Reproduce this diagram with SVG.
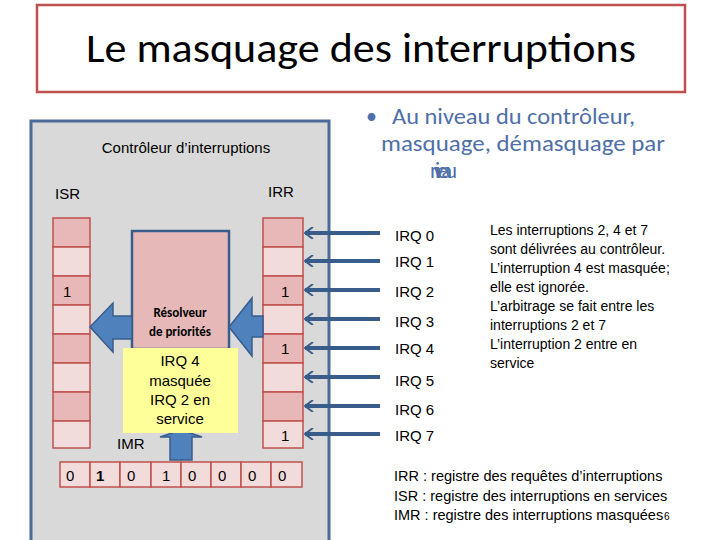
<svg xmlns="http://www.w3.org/2000/svg" width="720" height="540" viewBox="0 0 720 540">
<style>
text{font-family:"Liberation Sans",Arial,sans-serif;fill:#000}
.c{font-family:Carlito,Calibri,"Liberation Sans",sans-serif}
.a{fill:#e8b8b8;stroke:#c0504d;stroke-width:1.5}
.b{fill:#f2dcdb;stroke:#c0504d;stroke-width:1.5}
.big{fill:#4f81bd;stroke:#385d8a;stroke-width:1.5}
.blue{fill:#4f6fa8}
</style>
<defs><marker id="ah" markerWidth="10" markerHeight="12" refX="9" refY="6" orient="auto" markerUnits="userSpaceOnUse"><path d="M1,0 L9,6 L1,12" fill="none" stroke="#385d8a" stroke-width="2"/></marker></defs>
<rect width="720" height="540" fill="#fff"/>
<g id="title"><rect x="37" y="5" width="648" height="87" fill="#fff" stroke="#c0504d" stroke-width="2.5"/>
<text x="86" y="62" font-size="40" textLength="550" lengthAdjust="spacingAndGlyphs" class="c">Le masquage des interruptions</text></g>
<g id="panel"><rect x="31" y="121" width="298" height="425" fill="#d9d9d9" stroke="#4a6a9a" stroke-width="3"/>
<text x="186" y="153" font-size="15" text-anchor="middle">Contrôleur d’interruptions</text>
<text x="55" y="199" font-size="15">ISR</text><text x="268" y="197" font-size="15">IRR</text></g>
<g id="isr">
<rect class="a" x="53" y="218" width="37" height="29"/><rect class="b" x="53" y="247" width="37" height="29"/>
<rect class="a" x="53" y="276" width="37" height="29"/><rect class="b" x="53" y="305" width="37" height="29"/>
<rect class="a" x="53" y="334" width="37" height="29"/><rect class="b" x="53" y="363" width="37" height="29"/>
<rect class="a" x="53" y="392" width="37" height="29"/><rect class="b" x="53" y="421" width="37" height="27"/>
<text x="63" y="297" font-size="15">1</text></g>
<g id="irr">
<rect class="a" x="263" y="218" width="40" height="29"/><rect class="b" x="263" y="247" width="40" height="29"/>
<rect class="a" x="263" y="276" width="40" height="29"/><rect class="b" x="263" y="305" width="40" height="29"/>
<rect class="a" x="263" y="334" width="40" height="29"/><rect class="b" x="263" y="363" width="40" height="29"/>
<rect class="a" x="263" y="392" width="40" height="29"/><rect class="b" x="263" y="421" width="40" height="27"/>
<text x="281" y="297" font-size="15">1</text><text x="281" y="354" font-size="15">1</text><text x="281" y="441" font-size="15">1</text></g>
<g id="resolver"><rect x="132" y="231" width="97" height="118" fill="#e6b9b8" stroke="#385d8a" stroke-width="2.5"/>
<text x="180" y="317" font-size="13" font-weight="bold" text-anchor="middle" class="c">Résolveur</text>
<text x="180" y="336" font-size="13" font-weight="bold" text-anchor="middle" class="c">de priorités</text></g>
<g id="bigarrows">
<path class="big" d="M132,316 L113,316 L113,303 L90,327 L113,352 L113,339 L132,339 Z"/>
<path class="big" d="M263,316 L252,316 L252,298 L229,327 L252,356 L252,337 L263,337 Z"/>
<path class="big" d="M170,460 L170,437 L160,437 L181,430 L202,437 L192,437 L192,460 Z"/>
</g>
<g id="note"><rect x="123" y="348" width="115" height="85" fill="#ffff99"/>
<text font-size="15" text-anchor="middle"><tspan x="180" y="366">IRQ 4</tspan><tspan x="180" y="386">masquée</tspan><tspan x="180" y="405">IRQ 2 en</tspan><tspan x="180" y="424">service</tspan></text></g>
<text x="117" y="449" font-size="15">IMR</text>
<g id="imr">
<rect class="b" x="60" y="462" width="30" height="25"/><rect class="b" x="90" y="462" width="30" height="25"/>
<rect class="b" x="120" y="462" width="31" height="25"/><rect class="b" x="151" y="462" width="30" height="25"/>
<rect class="b" x="181" y="462" width="30" height="25"/><rect class="b" x="211" y="462" width="30" height="25"/>
<rect class="b" x="241" y="462" width="30" height="25"/><rect class="b" x="271" y="462" width="31" height="25"/>
<g font-size="15"><text x="66" y="481">0</text><text x="96" y="481" font-weight="bold">1</text><text x="127" y="481">0</text><text x="162" y="481">1</text><text x="188" y="481">0</text><text x="218" y="481">0</text><text x="248" y="481">0</text><text x="278" y="481">0</text></g></g>
<g id="connectors" stroke="#385d8a" stroke-width="4" marker-end="url(#ah)">
<line x1="380" y1="233" x2="305" y2="233"/><line x1="380" y1="261" x2="305" y2="261"/>
<line x1="380" y1="290" x2="305" y2="290"/><line x1="380" y1="319" x2="305" y2="319"/>
<line x1="380" y1="348" x2="305" y2="348"/><line x1="380" y1="377" x2="305" y2="377"/>
<line x1="380" y1="406" x2="305" y2="406"/><line x1="380" y1="434" x2="305" y2="434"/>
</g>
<g id="irqlabels" font-size="15"><text x="395" y="241">IRQ 0</text><text x="395" y="267">IRQ 1</text><text x="395" y="297">IRQ 2</text><text x="395" y="327">IRQ 3</text><text x="395" y="354">IRQ 4</text><text x="395" y="386">IRQ 5</text><text x="395" y="415">IRQ 6</text><text x="395" y="441">IRQ 7</text></g>
<g id="bullet" font-size="22">
<text x="366" y="124" class="c blue">•</text>
<text x="392" y="124" class="c blue" textLength="243" lengthAdjust="spacingAndGlyphs">Au niveau du contrôleur,</text>
<text x="381" y="151" class="c blue" textLength="284" lengthAdjust="spacingAndGlyphs">masquage, démasquage par</text>
<text x="430" y="178" class="c blue" textLength="27" lengthAdjust="spacing">niveau</text></g>
<text font-size="14"><tspan x="490" y="235">Les interruptions 2, 4 et 7</tspan><tspan x="490" y="254">sont délivrées au contrôleur.</tspan><tspan x="490" y="273">L’interruption 4 est masquée;</tspan><tspan x="490" y="292">elle est ignorée.</tspan><tspan x="490" y="311">L’arbitrage se fait entre les</tspan><tspan x="490" y="330">interruptions 2 et 7</tspan><tspan x="490" y="349">L’interruption 2 entre en</tspan><tspan x="490" y="368">service</tspan></text>
<text font-size="14.5"><tspan x="394" y="481">IRR : registre des requêtes d’interruptions</tspan><tspan x="394" y="501">ISR : registre des interruptions en services</tspan><tspan x="394" y="520">IMR : registre des interruptions masquées</tspan></text>
<text x="664" y="520" font-size="10" fill="#888">6</text>
</svg>
